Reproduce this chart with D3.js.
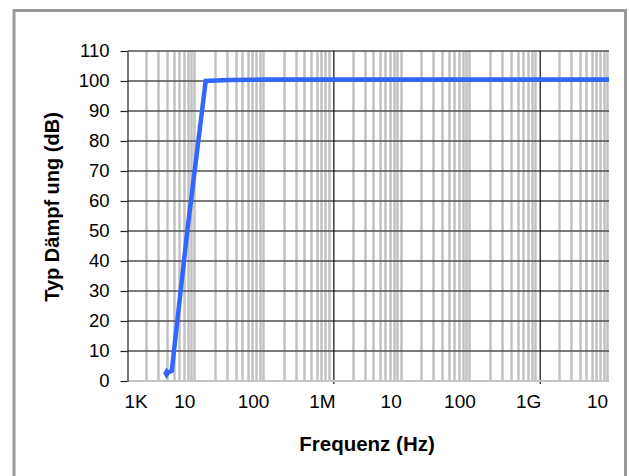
<!DOCTYPE html>
<html>
<head>
<meta charset="utf-8">
<script src="https://cdn.jsdelivr.net/npm/d3@7"></script>
<style>
  body { margin: 0; background: #fff; }
  text { font-family: Arial, "Liberation Sans", sans-serif; fill: #000; }
</style>
</head>
<body>
<svg id="chart"></svg>
<script>
// data
const freq = [3700, 4400, 7400, 13700, 30000, 100000, 1e10]
const dampfung = [2.6, 3.4, 50, 100, 100.3, 100.5, 100.5]
const xTickValues = [1e3, 1e4, 1e5, 1e6, 1e7, 1e8, 1e9, 1e10]
const xTickLabels = ['1K', '10', '100', '1M', '10', '100', '1G', '10']
const yTickValues = [0, 10, 20, 30, 40, 50, 60, 70, 80, 90, 100, 110]

const W = 629, H = 476
const svg = d3.select('#chart').attr('width', W).attr('height', H)

// outer frame
svg.append('rect')
    .attr('x', 14).attr('y', 10.5).attr('width', 611.5).attr('height', 480)
    .attr('fill', 'none').attr('stroke', '#999').attr('stroke-width', 3)

const x = d3.scaleLog().domain([1e3, 1e10]).range([127.5, 609])
const y = d3.scaleLinear().domain([0, 110]).range([381, 51])

// vertical grid: 1..9 per decade
const minor = []
for (let d = 3; d < 10; d++) for (let k = 1; k < 10; k++) minor.push(k * Math.pow(10, d))
minor.push(1e10)
const majorX = [1e6, 1e9]

svg.append('g').selectAll('line')
    .data(minor.filter(v => v > 1e3 && !majorX.includes(v)))
    .join('line')
    .attr('x1', d => Math.round(x(d)) - 1.5).attr('x2', d => Math.round(x(d)) - 1.5)
    .attr('y1', y(110)).attr('y2', y(0))
    .attr('stroke', '#c2c2c2').attr('stroke-width', 2.5)

// horizontal grid
svg.append('g').selectAll('line')
    .data(yTickValues.filter(v => v > 0))
    .join('line')
    .attr('x1', x(1e3)).attr('x2', x(1e10))
    .attr('y1', d => y(d)).attr('y2', d => y(d))
    .attr('stroke', '#505050').attr('stroke-width', 1.6)

svg.append('g').selectAll('line')
    .data(majorX)
    .join('line')
    .attr('x1', d => x(d)).attr('x2', d => x(d))
    .attr('y1', y(110)).attr('y2', y(0) + 3)
    .attr('stroke', '#111').attr('stroke-width', 1.2)

// bottom line
svg.append('line')
    .attr('x1', x(1e3)).attr('x2', x(1e10))
    .attr('y1', y(0)).attr('y2', y(0))
    .attr('stroke', '#c4c4c4').attr('stroke-width', 2)

// y axis
const yAxis = svg.append('g')
    .attr('transform', `translate(${x(1e3)},0)`)
    .call(d3.axisLeft(y).tickValues(yTickValues).tickSize(7).tickSizeOuter(0).tickPadding(11))
yAxis.select('.domain').attr('stroke', '#222').attr('stroke-width', 1.2)
yAxis.selectAll('.tick line').attr('stroke', '#222').attr('stroke-width', 1.2)
yAxis.selectAll('.tick text')
    .style('font-family', 'Arial, "Liberation Sans", sans-serif')
    .style('font-size', '18.5px').attr('fill', '#000')

// x axis labels
const xAxis = svg.append('g')
    .attr('transform', `translate(0,${y(0)})`)
    .call(d3.axisBottom(x).tickValues(xTickValues).tickFormat((d, i) => xTickLabels[i]).tickSize(0).tickPadding(14))
xAxis.select('.domain').remove()
xAxis.selectAll('.tick text')
    .style('font-family', 'Arial, "Liberation Sans", sans-serif')
    .style('font-size', '19px').attr('fill', '#000')
    .attr('dx', (d, i) => i === 0 ? 8 : -12)

// axis titles
svg.append('text')
    .attr('x', 367).attr('y', 451)
    .attr('text-anchor', 'middle')
    .style('font-size', '20.5px').style('font-weight', 'bold')
    .text('Frequenz (Hz)')

svg.append('text')
    .attr('transform', 'translate(59,207) rotate(-90)')
    .attr('text-anchor', 'middle')
    .style('font-size', '20px').style('font-weight', 'bold')
    .text('Typ Dämpf ung (dB)')

// series
const pts = freq.map((f, i) => [f, dampfung[i]])
svg.append('path')
    .datum(pts)
    .attr('fill', 'none').attr('stroke', '#3366ff').attr('stroke-width', 4.5)
    .attr('stroke-linejoin', 'miter')
    .attr('d', d3.line().x(d => x(d[0])).y(d => y(d[1])))

svg.append('path')
    .attr('d', d3.symbol(d3.symbolDiamond, 40)())
    .attr('transform', `translate(${x(pts[0][0])},${y(pts[0][1])})`)
    .attr('fill', '#3366ff')
</script>
</body>
</html>
